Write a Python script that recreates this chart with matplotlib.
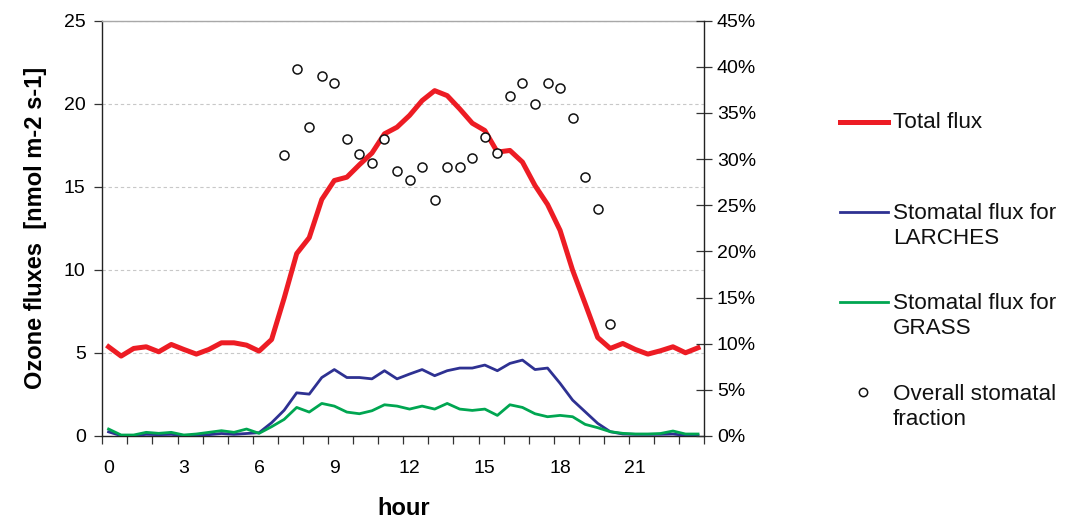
import numpy as np
import matplotlib
matplotlib.use("Agg")
import matplotlib.pyplot as plt
from matplotlib.lines import Line2D
from matplotlib.ticker import FixedLocator, FuncFormatter

# ---------------- data ----------------
hours = np.arange(48) * 0.5

total_flux = [5.37, 4.81, 5.27, 5.37, 5.07, 5.51, 5.21, 4.93, 5.21, 5.61, 5.61, 5.47,
              5.11, 5.81, 8.30, 10.98, 11.94, 14.24, 15.38, 15.58, 16.33, 17.03, 18.19, 18.59,
              19.30, 20.19, 20.79, 20.49, 19.69, 18.83, 18.39, 17.09, 17.19, 16.49, 15.08, 13.94,
              12.38, 9.98, 7.97, 5.93, 5.27, 5.57, 5.21, 4.93, 5.13, 5.37, 5.01, 5.31]

larches_flux = [0.25, 0.02, 0.02, 0.10, 0.08, 0.10, 0.02, 0.02, 0.08, 0.15, 0.10, 0.15,
                0.20, 0.80, 1.55, 2.60, 2.52, 3.52, 4.00, 3.52, 3.52, 3.44, 3.93, 3.44,
                3.73, 4.00, 3.63, 3.93, 4.09, 4.09, 4.27, 3.93, 4.37, 4.57, 4.00, 4.09,
                3.17, 2.16, 1.46, 0.76, 0.26, 0.12, 0.10, 0.10, 0.10, 0.12, 0.03, 0.03]

grass_flux = [0.42, 0.06, 0.06, 0.22, 0.16, 0.22, 0.06, 0.12, 0.22, 0.32, 0.22, 0.42,
              0.16, 0.56, 1.00, 1.72, 1.44, 1.96, 1.80, 1.44, 1.34, 1.52, 1.88, 1.80,
              1.62, 1.80, 1.62, 1.96, 1.62, 1.54, 1.62, 1.24, 1.88, 1.72, 1.34, 1.16,
              1.24, 1.16, 0.70, 0.50, 0.26, 0.16, 0.12, 0.12, 0.15, 0.30, 0.12, 0.12]

fraction_hours = np.arange(14, 41) * 0.5
stomatal_fraction = [30.4, 39.8, 33.5, 39.0, 38.2, 32.2, 30.6, 29.6, 32.2, 28.7,
                     27.7, 29.1, 25.6, 29.1, 29.1, 30.1, 32.4, 30.7, 36.8, 38.2,
                     36.0, 38.2, 37.7, 34.5, 28.1, 24.6, 12.1]

x_tick_values = [0, 3, 6, 9, 12, 15, 18, 21]
left_ticks = [0, 5, 10, 15, 20, 25]
right_ticks = [0, 5, 10, 15, 20, 25, 30, 35, 40, 45]

labels = ["Total flux", "Stomatal flux for\nLARCHES", "Stomatal flux for\nGRASS",
          "Overall stomatal\nfraction"]

RED = "#ED1C24"
BLUE = "#2E3192"
GREEN = "#00A651"

plt.rcParams['font.family'] = ['Liberation Sans', 'DejaVu Sans']

W, H = 1068, 519
fig = plt.figure(figsize=(W / 100, H / 100), dpi=100)

def fx(px):
    return px / W

def fy(py):
    return 1 - py / H

L, R, T, B = 102.3, 704.3, 20.7, 436.0
ax = fig.add_axes([fx(L), fy(B), fx(R - L), (B - T) / H])

ax.plot(hours, total_flux, color=RED, lw=3.6, zorder=4)
ax.plot(hours, larches_flux, color=BLUE, lw=2.0, zorder=3)
ax.plot(hours, grass_flux, color=GREEN, lw=2.0, zorder=3)

ax.set_xlim(-0.25, 23.75)
ax.set_ylim(0, 25)
ax.set_xticks(x_tick_values)
ax.set_xticklabels([str(v) for v in x_tick_values])
ax.xaxis.set_minor_locator(FixedLocator(np.arange(-0.25, 23.8, 1.0)))
ax.tick_params(axis='x', which='major', length=0, pad=17, labelsize=14)
ax.tick_params(axis='x', which='minor', length=6, width=0.9, direction='out', color='#333333')
ax.set_yticks(left_ticks)
ax.tick_params(axis='y', which='major', length=6, width=0.9, direction='out', pad=6,
               labelsize=14, color='#333333')
ax.yaxis.grid(True, linestyle=(0, (3, 2.5)), color='#c8c8c8', lw=0.8)
ax.set_axisbelow(True)

for s in ['left', 'bottom']:
    ax.spines[s].set_color('#222222')
    ax.spines[s].set_linewidth(1.0)
ax.spines['top'].set_color('#a8a8a8')
ax.spines['top'].set_linewidth(1.0)
ax.spines['right'].set_visible(False)

ax.set_ylabel("Ozone fluxes  [nmol m-2 s-1]", fontsize=17, fontweight='bold', labelpad=12)
ax.set_xlabel("hour", fontsize=17, fontweight='bold', labelpad=15)

ax2 = ax.twinx()
ax2.plot(fraction_hours, stomatal_fraction, linestyle='none', marker='o', ms=6.5,
         mfc='white', mec='#111111', mew=1.1, zorder=5)
ax2.set_ylim(0, 45)
ax2.set_yticks(right_ticks)
ax2.yaxis.set_major_formatter(FuncFormatter(lambda v, p: f"{int(v)}%"))
ax2.tick_params(axis='y', length=12, width=0.9, direction='inout', pad=3, labelsize=14,
                color='#333333')
for s in ['left', 'bottom', 'top']:
    ax2.spines[s].set_visible(False)
ax2.spines['right'].set_color('#222222')
ax2.spines['right'].set_linewidth(1.0)

# ---------------- legend (drawn manually, Excel style) ----------------
hx0, hx1, tx = 840, 888, 893
fig.add_artist(Line2D([fx(hx0), fx(hx1)], [fy(121.7)] * 2, color=RED, lw=3.6))
fig.add_artist(Line2D([fx(hx0), fx(hx1)], [fy(211.7)] * 2, color=BLUE, lw=2.0))
fig.add_artist(Line2D([fx(hx0), fx(hx1)], [fy(301.7)] * 2, color=GREEN, lw=2.0))
fig.add_artist(Line2D([fx(863)], [fy(391.7)], linestyle='none', marker='o', ms=6.0,
                      mfc='white', mec='#111111', mew=1.1))
centers = [122, 226, 316, 407]
for lab, c in zip(labels, centers):
    fig.text(fx(tx), fy(c), lab, fontsize=16.2, va='center', ha='left',
             linespacing=1.2, color='#111111')

fig.savefig("out.png", dpi=100)
